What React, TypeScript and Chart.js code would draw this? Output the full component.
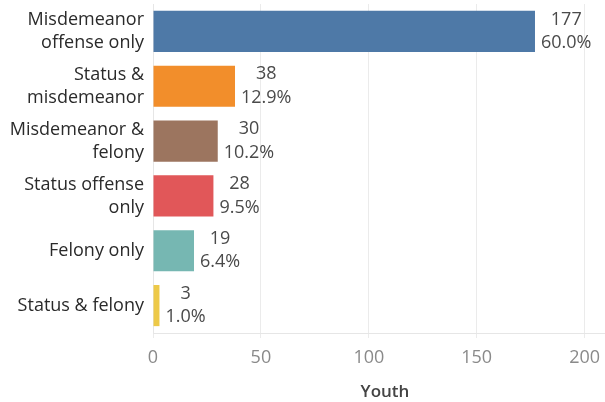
import React, { useEffect, useRef } from "react";
import { Chart, registerables } from "chart.js";

Chart.register(...registerables);

const categories: (string | string[])[] = [
  ["Misdemeanor", "offense only"],
  ["Status &", "misdemeanor"],
  ["Misdemeanor &", "felony"],
  ["Status offense", "only"],
  "Felony only",
  "Status & felony",
];
const youthCounts = [177, 38, 30, 28, 19, 3];
const percentLabels = ["60.0%", "12.9%", "10.2%", "9.5%", "6.4%", "1.0%"];
const barColors = ["#4e79a7", "#f28e2b", "#9c755f", "#e15759", "#76b7b2", "#edc948"];
const xTicks = [0, 50, 100, 150, 200];
const axisTitle = "Youth";

const FONT = "'Open Sans', sans-serif";

const labelPlugin = {
  id: "barLabels",
  afterDatasetsDraw(chart: any) {
    const ctx = chart.ctx;
    const meta = chart.getDatasetMeta(0);
    ctx.save();
    ctx.font = `18px ${FONT}`;
    ctx.fillStyle = "#4a4a4a";
    ctx.textBaseline = "middle";
    ctx.textAlign = "center";
    meta.data.forEach((bar: any, i: number) => {
      const l1 = String(youthCounts[i]);
      const l2 = percentLabels[i];
      const w = Math.max(ctx.measureText(l1).width, ctx.measureText(l2).width);
      const cx = bar.x + 6 + w / 2;
      ctx.fillText(l1, cx, bar.y - 12);
      ctx.fillText(l2, cx, bar.y + 11.5);
    });
    ctx.restore();
  },
};

export default function App() {
  const ref = useRef<HTMLCanvasElement>(null);
  useEffect(() => {
    if (!ref.current) return;
    const chart = new Chart(ref.current, {
      type: "bar",
      data: {
        labels: categories,
        datasets: [
          {
            data: youthCounts,
            backgroundColor: barColors,
            borderWidth: 0,
            categoryPercentage: 1,
            barPercentage: 0.75,
          },
        ],
      },
      options: {
        indexAxis: "y",
        responsive: false,
        animation: false,
        devicePixelRatio: 1,
        layout: { padding: { top: 4, right: 0, bottom: 0, left: 0 } },
        plugins: { legend: { display: false }, tooltip: { enabled: false } },
        scales: {
          x: {
            min: 0,
            max: 215,
            afterBuildTicks: (scale: any) => {
              scale.ticks = xTicks.map((v) => ({ value: v }));
            },
            afterFit: (scale: any) => {
              scale.height = 69;
              scale.paddingLeft = 0;
              scale.paddingRight = 0;
            },
            grid: { color: "#ebebeb", tickLength: 5, drawTicks: true },
            border: { display: true, color: "#e6e6e6" },
            ticks: {
              color: "#8a8a8a",
              font: { family: FONT, size: 18 },
              padding: 9,
              maxRotation: 0,
            },
            title: {
              display: true,
              text: axisTitle,
              color: "#444",
              font: { family: FONT, size: 17, weight: "600" },
              padding: { top: 0, bottom: 0 },
            },
          },
          y: {
            afterFit: (scale: any) => {
              scale.width = 153;
              scale.paddingTop = 0;
              scale.paddingBottom = 0;
            },
            grid: { display: false, drawTicks: false },
            border: { display: true, color: "#e6e6e6" },
            ticks: {
              color: "#2a2a2a",
              font: { family: FONT, size: 18, lineHeight: 1.28 },
              padding: 9,
            },
          },
        },
      },
      plugins: [labelPlugin],
    } as any);
    return () => chart.destroy();
  }, []);
  return (
    <div
      style={{
        position: "fixed",
        left: 0,
        top: 0,
        width: 605,
        height: 402,
        overflow: "hidden",
        background: "#fff",
      }}
    >
      <canvas ref={ref} width={617} height={402} style={{ width: 617, height: 402, display: "block" }} />
    </div>
  );
}
